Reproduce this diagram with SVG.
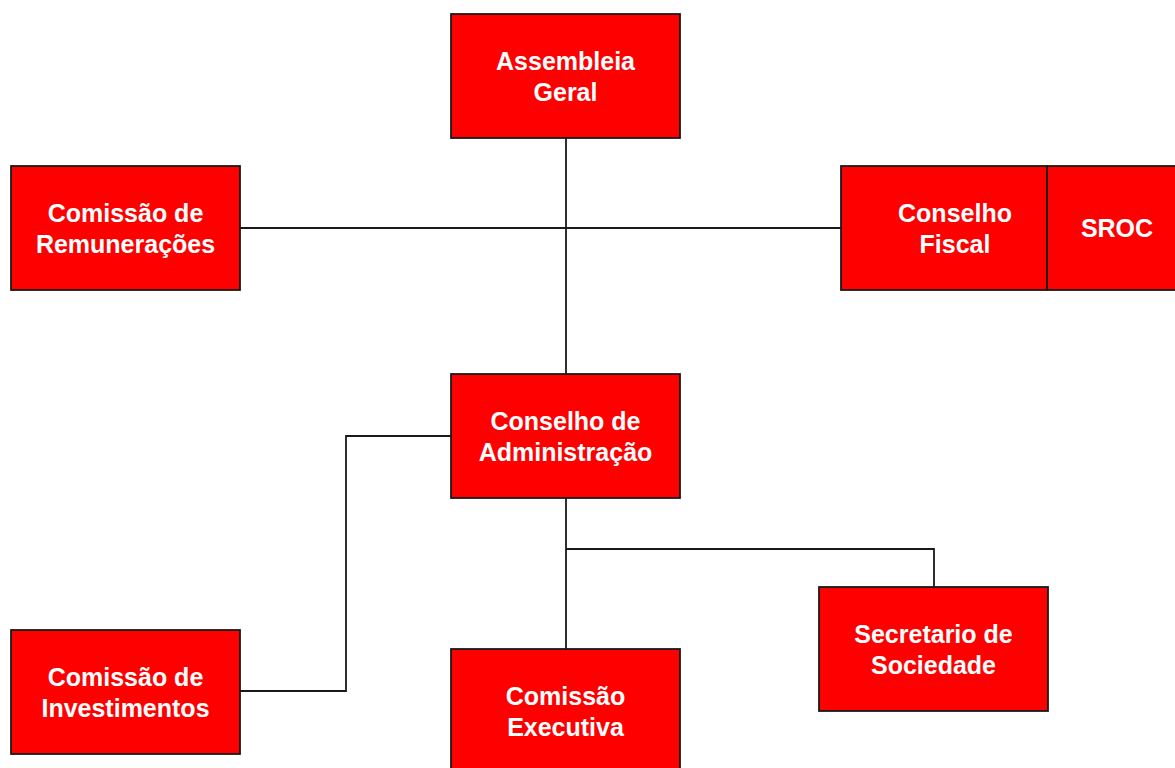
<svg xmlns="http://www.w3.org/2000/svg" width="1175" height="768" viewBox="0 0 1175 768">
<style>
.box{fill:#ff0000;stroke:#1a1a1a;stroke-width:1.8}
.lbl{fill:#ffffff;font-family:"Liberation Sans",Arial,sans-serif;font-weight:bold;font-size:25px;text-anchor:middle}
.con{fill:none;stroke:#1a1a1a;stroke-width:1.8}
</style>
<rect width="1175" height="768" fill="#ffffff"/>
<g id="connectors">
<path class="con" d="M566 138V374"/>
<path class="con" d="M240 228H841"/>
<path class="con" d="M451 436H346V691H240"/>
<path class="con" d="M566 498V649"/>
<path class="con" d="M566 549H934V587"/>
</g>
<g id="assembleia-geral">
<rect class="box" x="451" y="14" width="229" height="124"/>
<text class="lbl" x="565.5" y="70">Assembleia</text>
<text class="lbl" x="565.5" y="101">Geral</text>
</g>
<g id="comissao-remuneracoes">
<rect class="box" x="11" y="166" width="229" height="124"/>
<text class="lbl" x="125.5" y="222">Comissão de</text>
<text class="lbl" x="125.5" y="253">Remunerações</text>
</g>
<g id="conselho-fiscal">
<rect class="box" x="841" y="166" width="206" height="124"/>
<text class="lbl" x="955" y="222">Conselho</text>
<text class="lbl" x="955" y="253">Fiscal</text>
</g>
<g id="sroc">
<rect class="box" x="1047" y="166" width="140" height="124"/>
<text class="lbl" x="1117" y="237">SROC</text>
</g>
<g id="conselho-administracao">
<rect class="box" x="451" y="374" width="229" height="124"/>
<text class="lbl" x="565.5" y="430">Conselho de</text>
<text class="lbl" x="565.5" y="461">Administração</text>
</g>
<g id="comissao-investimentos">
<rect class="box" x="11" y="630" width="229" height="124"/>
<text class="lbl" x="125.5" y="686">Comissão de</text>
<text class="lbl" x="125.5" y="717">Investimentos</text>
</g>
<g id="comissao-executiva">
<rect class="box" x="451" y="649" width="229" height="130"/>
<text class="lbl" x="565.5" y="705">Comissão</text>
<text class="lbl" x="565.5" y="736">Executiva</text>
</g>
<g id="secretario-sociedade">
<rect class="box" x="819" y="587" width="229" height="124"/>
<text class="lbl" x="933.5" y="643">Secretario de</text>
<text class="lbl" x="933.5" y="674">Sociedade</text>
</g>
</svg>
